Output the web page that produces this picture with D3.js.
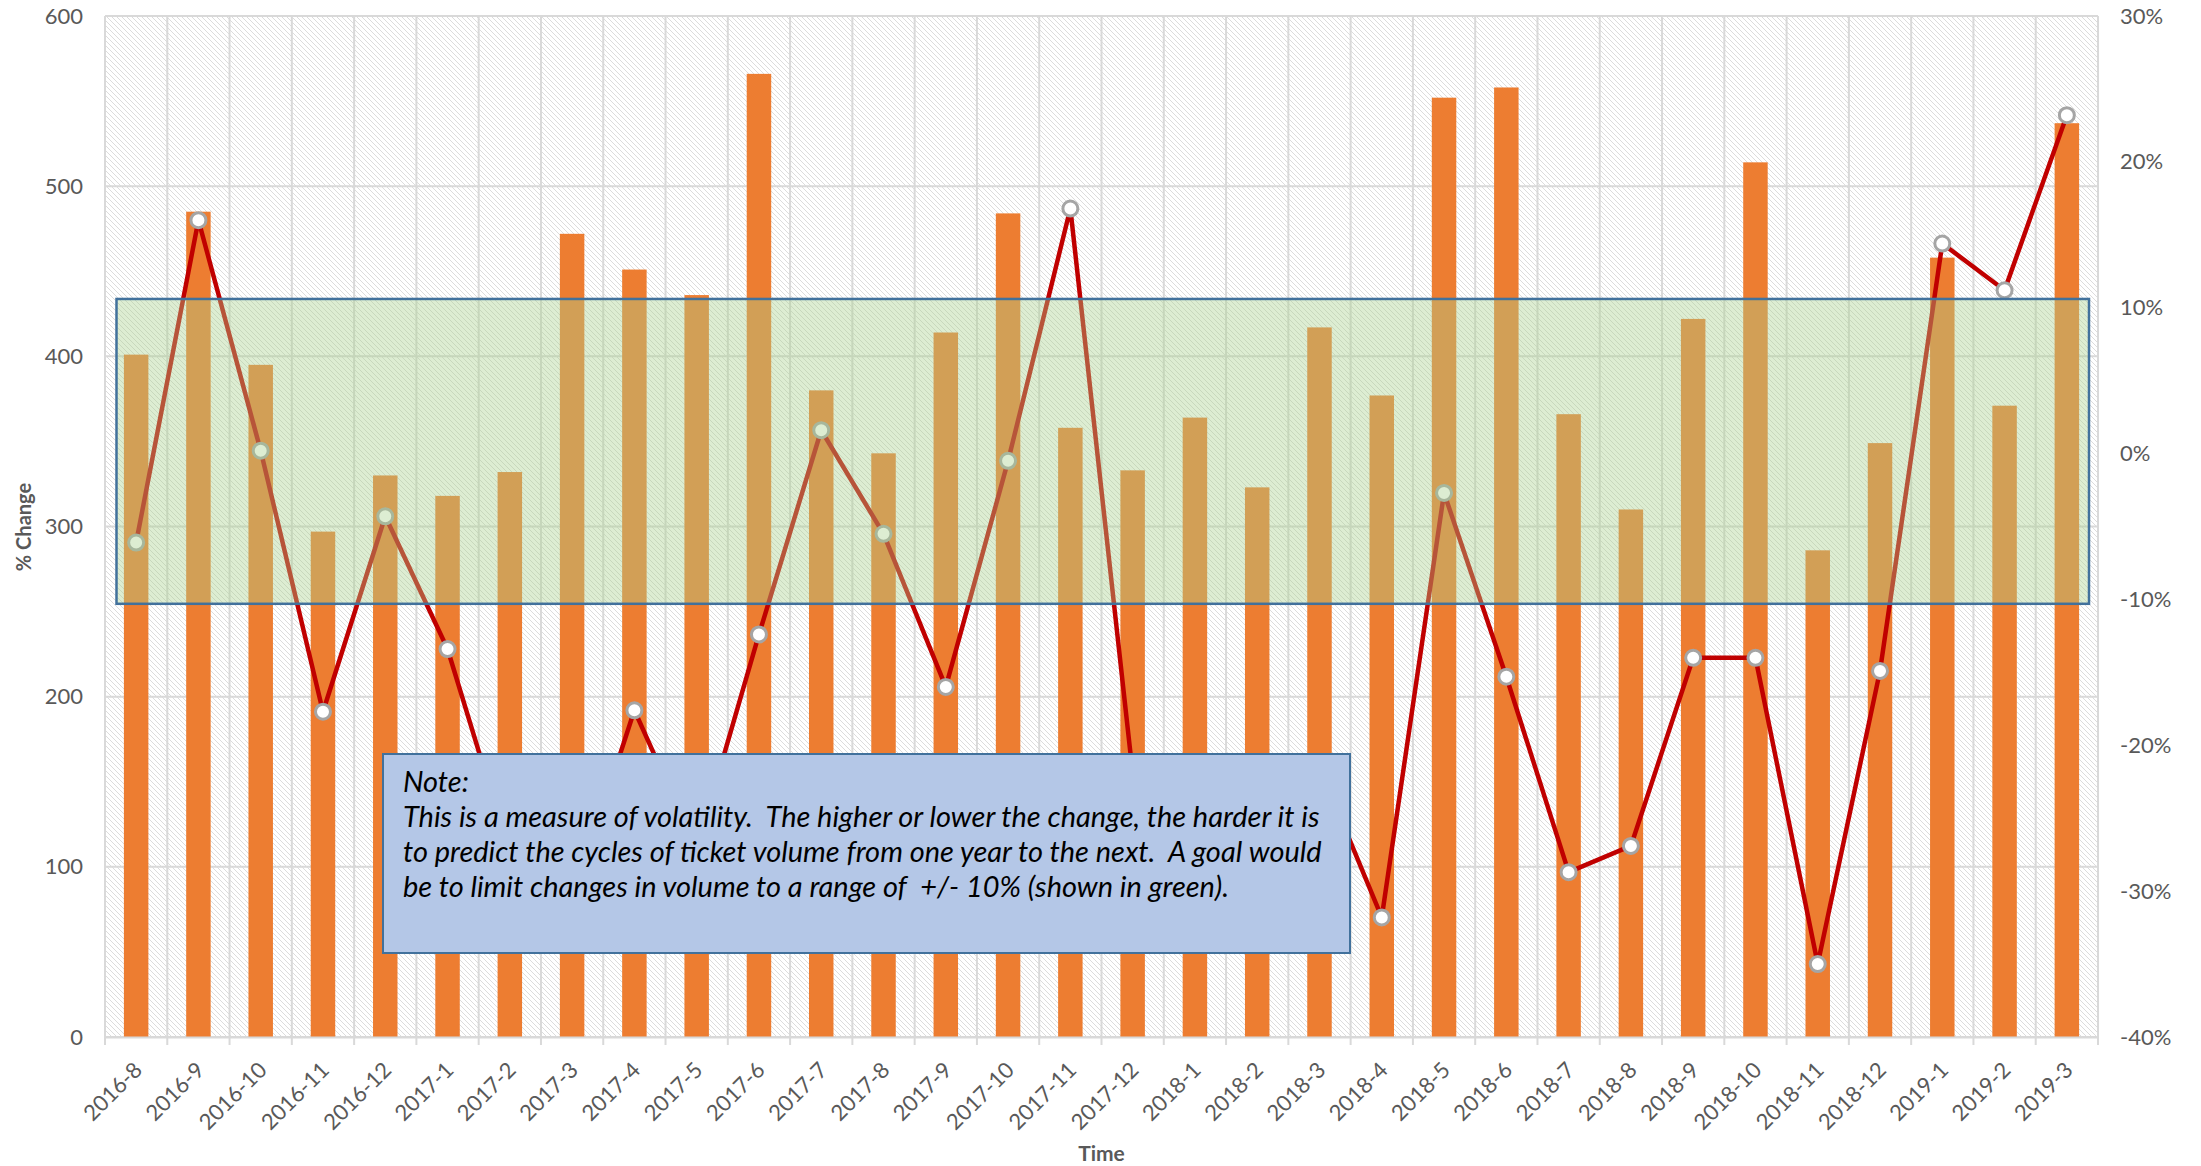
<!DOCTYPE html>
<html>
<head>
<meta charset="utf-8">
<script src="https://d3js.org/d3.v7.min.js"></script>
<style>
body { margin: 0; background: #fff; }
text { font-family: Lato, "Noto Sans", sans-serif; }
</style>
</head>
<body>
<svg width="2201" height="1166"></svg>
<script>
// data
var months = ["2016-8","2016-9","2016-10","2016-11","2016-12",
  "2017-1","2017-2","2017-3","2017-4","2017-5","2017-6","2017-7","2017-8","2017-9","2017-10","2017-11","2017-12",
  "2018-1","2018-2","2018-3","2018-4","2018-5","2018-6","2018-7","2018-8","2018-9","2018-10","2018-11","2018-12",
  "2019-1","2019-2","2019-3"];
var volume = [401, 485, 395, 297, 330, 318, 332, 472, 451, 436, 566, 380, 343, 414, 484, 358, 333,
  364, 323, 417, 377, 552, 558, 366, 310, 422, 514, 286, 349, 458, 371, 537];
var pctChange = [-6.1, 16.0, 0.2, -17.7, -4.3, -13.4, -27.4, -30.7, -17.6, -27.1, -12.4, 1.6, -5.5, -16.0, -0.5, 16.8, -21.9,
  -25.0, -28.0, -21.5, -31.8, -2.7, -15.3, -28.7, -26.9, -14.0, -14.0, -35.0, -14.9, 14.4, 11.2, 23.2];
var leftTicks = [0, 100, 200, 300, 400, 500, 600];
var rightTicks = [-40, -30, -20, -10, 0, 10, 20, 30];
var goalRange = [-10.3, 10.6];
var noteLines = [
  "Note:",
  "This is a measure of volatility.  The higher or lower the change, the harder it is",
  "to predict the cycles of ticket volume from one year to the next.  A goal would",
  "be to limit changes in volume to a range of  +/- 10% (shown in green)."
];

var svg = d3.select("svg");
var plot = {left: 105, right: 2098, top: 16, bottom: 1037};
var grey = "#595959";

var x = d3.scaleBand().domain(months).range([plot.left, plot.right]);
var yL = d3.scaleLinear().domain([0, 600]).range([plot.bottom, plot.top]);
var yR = d3.scaleLinear().domain([-40, 30]).range([plot.bottom, plot.top]);
var bw = x.bandwidth();
var barW = bw * 0.393;

// hatched plot background
var defs = svg.append("defs");
defs.append("pattern")
 .attr("id", "hatch")
 .attr("patternUnits", "userSpaceOnUse")
 .attr("width", 5)
 .attr("height", 5)
 .append("path")
 .attr("d", "M-1,-1 L6,6 M-1,4 L1,6 M4,-1 L6,1")
 .attr("stroke", "#dcdcdc")
 .attr("stroke-width", 1);

svg.append("rect")
 .attr("x", plot.left)
 .attr("y", plot.top)
 .attr("width", plot.right - plot.left)
 .attr("height", plot.bottom - plot.top)
 .attr("fill", "url(#hatch)");

// gridlines
var grid = svg.append("g").attr("stroke", "#d9d9d9").attr("stroke-width", 2);
grid.selectAll(".hgrid")
 .data(leftTicks)
 .enter().append("line")
 .attr("x1", plot.left).attr("x2", plot.right)
 .attr("y1", function(d) { return yL(d); })
 .attr("y2", function(d) { return yL(d); });

var edges = months.map(function(m) { return x(m); }).concat([plot.right]);
grid.selectAll(".vgrid")
 .data(edges)
 .enter().append("line")
 .attr("x1", function(d) { return d; })
 .attr("x2", function(d) { return d; })
 .attr("y1", plot.top)
 .attr("y2", plot.bottom + 8);

// bars
svg.selectAll(".bar")
 .data(months)
 .enter().append("rect")
 .attr("class", "bar")
 .attr("x", function(d) { return x(d) + (bw - barW) / 2; })
 .attr("y", function(d, i) { return yL(volume[i]); })
 .attr("width", barW)
 .attr("height", function(d, i) { return yL(0) - yL(volume[i]); })
 .attr("fill", "#ED7D31");

// % change line
var line = d3.line()
 .x(function(d) { return x(d) + bw / 2; })
 .y(function(d, i) { return yR(pctChange[i]); });

svg.append("path")
 .datum(months)
 .attr("d", line)
 .attr("fill", "none")
 .attr("stroke", "#C00000")
 .attr("stroke-width", 4.5)
 .attr("stroke-linejoin", "round");

svg.selectAll(".dot")
 .data(months)
 .enter().append("circle")
 .attr("cx", function(d) { return x(d) + bw / 2; })
 .attr("cy", function(d, i) { return yR(pctChange[i]); })
 .attr("r", 7.5)
 .attr("fill", "#fff")
 .attr("stroke", "#a5a5a5")
 .attr("stroke-width", 3);

// green goal zone on top of the series
svg.append("rect")
 .attr("x", plot.left + 11.5)
 .attr("y", yR(goalRange[1]))
 .attr("width", plot.right - plot.left - 20.5)
 .attr("height", yR(goalRange[0]) - yR(goalRange[1]))
 .attr("fill", "rgba(169,209,142,0.4)")
 .attr("stroke", "#41719C")
 .attr("stroke-width", 2.5);

// axes
var leftAxis = svg.append("g")
 .attr("transform", "translate(" + plot.left + ",0)")
 .call(d3.axisLeft(yL).tickValues(leftTicks).tickSize(0).tickPadding(22));
leftAxis.select(".domain").remove();

var rightAxis = svg.append("g")
 .attr("transform", "translate(" + plot.right + ",0)")
 .call(d3.axisRight(yR).tickValues(rightTicks).tickSize(0).tickPadding(22)
   .tickFormat(function(d) { return d + "%"; }));
rightAxis.select(".domain").remove();

var bottomAxis = svg.append("g")
 .attr("transform", "translate(0," + plot.bottom + ")")
 .call(d3.axisBottom(x).tickSize(0));
bottomAxis.select(".domain")
 .attr("stroke", "#d9d9d9")
 .attr("stroke-width", 2);
bottomAxis.selectAll("text")
 .attr("x", 0)
 .attr("y", 0)
 .attr("dy", "0.35em")
 .attr("text-anchor", "end")
 .attr("transform", "translate(2,29) rotate(-45)");

svg.selectAll(".tick text")
 .attr("font-family", "Lato, 'Noto Sans', sans-serif")
 .attr("font-size", "22px")
 .attr("fill", grey);

// axis titles
svg.append("text")
 .attr("transform", "translate(31,527) rotate(-90)")
 .attr("text-anchor", "middle")
 .attr("font-size", "20px")
 .attr("font-weight", "bold")
 .attr("fill", grey)
 .text("% Change");

svg.append("text")
 .attr("x", (plot.left + plot.right) / 2)
 .attr("y", 1161)
 .attr("text-anchor", "middle")
 .attr("font-size", "21px")
 .attr("font-weight", "bold")
 .attr("fill", grey)
 .text("Time");

// note box
svg.append("rect")
 .attr("x", 383)
 .attr("y", 754)
 .attr("width", 967)
 .attr("height", 199)
 .attr("fill", "#B4C7E7")
 .attr("stroke", "#41719C")
 .attr("stroke-width", 2);

var note = svg.append("g");
note.selectAll("text")
 .data(noteLines)
 .enter().append("text")
 .attr("x", 403)
 .attr("y", function(d, i) { return 792 + i * 35; })
 .attr("font-size", "26px")
 .attr("font-style", "italic")
 .attr("fill", "#000")
 .attr("xml:space", "preserve")
 .style("white-space", "pre")
 .text(function(d) { return d; });

// fit the note font so the long line spans the box like the original
var widest = note.selectAll("text").nodes()[1].getComputedTextLength();
note.selectAll("text").attr("font-size", (26 * 917 / widest) + "px");
</script>
</body>
</html>
